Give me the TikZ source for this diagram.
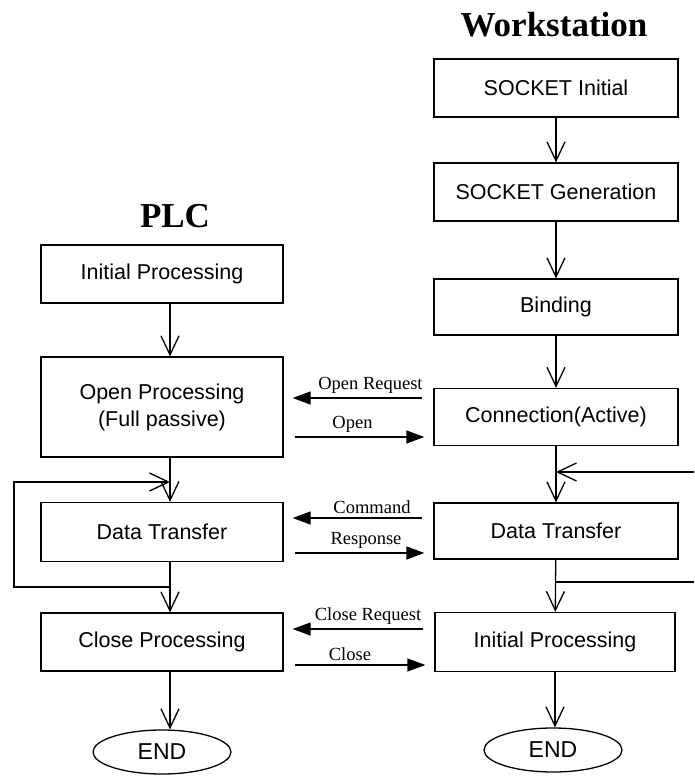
\documentclass[tikz,border=0pt]{standalone}
\usepackage{fontspec}
\setmainfont{Liberation Serif}
\setsansfont{Liberation Sans}
\usetikzlibrary{shapes.geometric, arrows.meta}

\begin{document}
\begin{tikzpicture}[x=1pt, y=-1pt]
  \tikzstyle{line}=[draw, line width=1.3pt]
  \tikzstyle{process} = [rectangle, minimum width=242pt, minimum height=58pt, align=center, draw=black, line width=1.3pt, font=\sffamily\fontsize{21.5}{27}\selectfont]
  \tikzstyle{stop} = [ellipse, minimum width=138pt, minimum height=44pt, inner sep=0pt, draw=black, line width=1.3pt, font=\sffamily\fontsize{23}{26}\selectfont]
  \tikzstyle{side} = [font=\bfseries\fontsize{35}{38}\selectfont]
  \tikzstyle{flow}=[draw, line width=1.3pt, -{Straight Barb[length=19pt, width=18pt]}]
  \tikzstyle{msg}=[draw, line width=1.3pt, -{Triangle[length=18pt, width=13pt]}, shorten <=11pt, shorten >=9pt]
  \tikzstyle{msgtext}=[above=3pt, inner sep=1pt, font=\fontsize{18.5}{20}\selectfont]

  \useasboundingbox (0,0) rectangle (694,776);

  \node (plc) [side] at (175,216) {PLC};
  \node (ws) [side] at (554,25) {Workstation};

  % PLC side
  \node (initL) [process] at (162,274) {Initial Processing};
  \node (openL) [process, minimum height=100pt] at (162,407) {Open Processing\\(Full passive)};
  \node (dataL) [process, minimum height=59pt] at (162,532) {Data Transfer};
  \node (closeL) [process] at (162,642) {Close Processing};
  \node (endL) [stop] at (162,752) {END};

  % workstation side
  \node (sockI) [process, minimum width=244pt] at (556,88) {SOCKET Initial};
  \node (sockG) [process, minimum width=244pt] at (556,192) {SOCKET Generation};
  \node (bind) [process, minimum width=244pt, minimum height=56pt] at (556,307) {Binding};
  \node (conn) [process, minimum width=244pt, minimum height=57pt] at (556,417) {Connection(Active)};
  \node (dataR) [process, minimum width=244pt, minimum height=56pt] at (556,531) {Data Transfer};
  \node (initR) [process, minimum width=240pt, minimum height=59pt] at (555,642) {Initial Processing};
  \node (endR) [stop] at (553,750) {END};

  \coordinate (splitL) at (170,587);
  \coordinate (joinL) at (170,482);
  \coordinate (splitR) at (556,582);
  \coordinate (joinR) at (556,472);
  \coordinate (edgeR1) at (694,582);
  \coordinate (edgeR2) at (694,472);

  \draw [flow] ([xshift=8pt]initL.south) -- ([xshift=8pt]openL.north);
  \draw [flow] ([xshift=8pt]openL.south) -- ([xshift=8pt]dataL.north);
  \draw [flow] ([xshift=8pt]dataL.south) -- ([xshift=8pt]closeL.north);
  \draw [flow] ([xshift=8pt]closeL.south) -- ([xshift=8pt]endL.north);
  \draw [flow] (splitL) -- ++(-156,0) |- (joinL);

  \draw [flow] (sockI) -- (sockG);
  \draw [flow] (sockG) -- (bind);
  \draw [flow] (bind) -- (conn);
  \draw [flow] (conn) -- (dataR);
  \draw [flow] (dataR) -- (initR);
  \draw [flow] (initR.south) -- (endR.north -| initR.south);
  \draw [line] (splitR) -- (edgeR1);
  \draw [flow] (edgeR2) -- (joinR);

  \draw [msg] (conn.west |- 0,398) -- node[msgtext, pos=0.42] {Open Request} (openL.east |- 0,398);
  \draw [msg] (openL.east |- 0,437) -- node[msgtext, pos=0.46] {Open} (conn.west |- 0,437);
  \draw [msg] (dataR.west |- 0,518) -- node[msgtext, pos=0.41] {Command} (dataL.east |- 0,518);
  \draw [msg] (dataL.east |- 0,553) -- node[msgtext, pos=0.55] {Response} (dataR.west |- 0,553);
  \draw [msg] (initR.west |- 0,629) -- node[msgtext, pos=0.44] {Close Request} (closeL.east |- 0,629);
  \draw [msg] (closeL.east |- 0,665) -- node[msgtext, pos=0.44] {Close} (initR.west |- 0,665);

\end{tikzpicture}
\end{document}
